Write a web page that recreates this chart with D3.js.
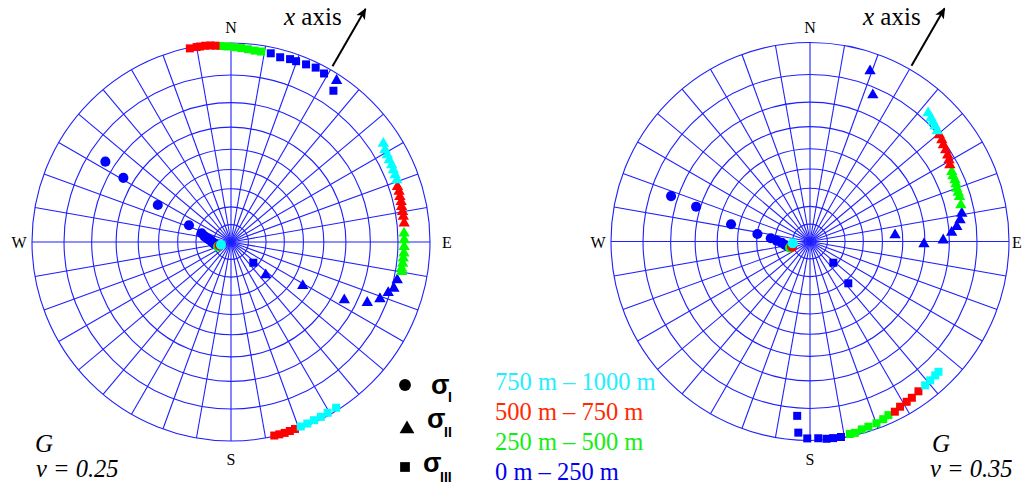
<!DOCTYPE html>
<html><head><meta charset="utf-8">
<script src="https://cdn.jsdelivr.net/npm/d3@7"></script>
<style>body{margin:0;background:#fff}svg{display:block}</style>
</head><body>
<script>
// ---------- data ----------
// depth bands (index used as 3rd element of each point)
const depthBands = ["0 m – 250 m", "250 m – 500 m", "500 m – 750 m", "750 m – 1000 m"];
const stressSubscripts = ["I", "II", "III"];
const compassLabels = ["N", "E", "S", "W"];
const compassTrends = [0, 90, 180, 270];
const gridPlunges = [0, 10, 20, 30, 40, 50, 60, 70, 80];
const gridTrends = [0,10,20,30,40,50,60,70,80,90,100,110,120,130,140,150,160,170,
                    180,190,200,210,220,230,240,250,260,270,280,290,300,310,320,330,340,350];
const xAxisTrend = 30;
const modelLabels = ["G", "G"];
const poissonLabels = ["ν = 0.25", "ν = 0.35"];

// points: [trend (deg), plunge (deg), depth band index]
const leftSigma1 = [
  [302.6,16.3,0],[300.8,25.6,0],[296.8,45.2,0],[291.7,64.4,0],[286.5,72.5,0],[282,74.5,0],
  [280,75.9,0],[277,77,0],[275.4,77.9,0],[272,78.8,0],[269,79.5,0],[265,80.2,0],[261.8,80.7,0],
  [250.9,82.1,1],[253.1,83.1,2],[255,84,3]
];
const leftSigma2 = [
  [133.6,62.9,0],[121.4,44.2,0],[117.1,24.8,0],[114.0,16.3,0],[110.9,12.6,0],[107.9,10.6,0],
  [105.9,9.2,0],[102.9,8.8,0],[33.2,1.8,0],
  [87.1,7.9,1],[89.3,7.9,1],[91.6,7.9,1],[93.7,7.9,1],[95.4,8.0,1],[97.1,8.0,1],[98.8,8.1,1],[99.9,7.9,1],
  [71.6,7.2,2],[73.3,7.2,2],[75.0,7.4,2],[76.7,7.4,2],[78.3,7.6,2],[80.0,7.6,2],[81.6,7.6,2],[83.8,7.6,2],
  [57.1,5.3,3],[59.1,5.9,3],[60.9,6.1,3],[62.6,6.3,3],[64.4,6.3,3],[66.1,6.5,3],[67.8,6.6,3],[69.5,6.7,3]
];
const leftSigma3 = [
  [11.9,1.8,0],[14.9,2.3,0],[17.9,2.0,0],[19.8,2.0,0],[22.9,1.8,0],[25.9,1.5,0],[28.9,1.9,0],
  [34.1,4.9,0],[132.9,72.6,0],
  [357,0.8,1],[359,1.0,1],[1,1.2,1],[3,1.4,1],[5,1.6,1],[7,1.8,1],[9,1.8,1],
  [348,0.3,2],[350,0.3,2],[351,0.3,2],[352.5,0.3,2],[354,0.4,2],[355.5,0.6,2],
  [167.4,0.2,2],[165.9,0.2,2],[164.3,0.2,2],[162.7,0.3,2],[161.1,0.4,2],
  [159.3,0.5,3],[157.2,0.6,3],[155.0,0.7,3],[152.8,0.7,3],[150.5,0.8,3],[147.6,0.8,3]
];
const rightSigma1 = [
  [288.1,17.4,0],[287.0,28.2,0],[282.3,45.8,0],[278.1,60.1,0],[274.7,67.6,0],[271.4,71.0,0],
  [267.6,73.8,0],[262,75.6,0],[256.5,77.2,0],
  [252.8,78,1],[253.9,79.3,2],[264,80,3]
];
const rightSigma2 = [
  [19.4,5.5,0],[23.2,12.6,0],[79.5,14.4,0],[81.8,15.4,0],[84.2,16.9,0],[86.4,19.0,0],
  [89.4,22.4,0],[91.3,30.4,0],[85.6,43.6,0],
  [63.8,13.1,1],[65.4,13.4,1],[67.0,13.3,1],[68.5,13.5,1],[70.1,13.8,1],[71.7,13.8,1],[73.3,13.8,1],[76.4,14.1,1],
  [50.5,9.8,2],[52.4,10.2,2],[54.1,10.8,2],[56.0,11.1,2],[57.9,11.5,2],[59.6,12.0,2],[61.3,12.6,2],
  [42.6,7.5,3],[44.4,8.0,3],[45.8,8.5,3],[47.3,8.9,3],[49.0,9.5,3]
];
const rightSigma3 = [
  [132.3,72.0,0],[137.5,58.2,0],[184.2,7.4,0],[183.5,2.2,0],[180.8,0.6,0],[177.6,0.6,0],
  [175.2,0.3,0],[173.3,0.3,0],[171.0,0.3,0],
  [168.3,0.7,1],[166.8,0.7,1],[164.6,1.2,1],[162.5,1.4,1],[159.9,1.6,1],[157.6,2.0,1],[155.7,2.5,1],
  [153.5,2.6,2],[151.4,3.2,2],[148.9,3.5,2],[146.9,3.7,2],[144.1,4.2,2],
  [141.3,4.4,3],[139.1,4.6,3],[136.9,4.7,3],[135.4,4.8,3]
];

// ---------- styles / layout ----------
const bandColors = ["#0000ff", "#00ff00", "#ff0000", "#00ffff"];
const bandTextColors = ["#0000ee", "#11ee11", "#ff2a00", "#22eeff"];
const gridColor = "#1f1fff";
const R = 199;
const panels = [
  {cx: 231, cy: 242, sets: [leftSigma1, leftSigma2, leftSigma3], ex: 447, lx: 35},
  {cx: 810, cy: 241.5, sets: [rightSigma1, rightSigma2, rightSigma3], ex: 1017, lx: 930}
];
const symbolTypes = [d3.symbolCircle, d3.symbolTriangle, d3.symbolSquare];
const symbolSizes = [80, 56, 64];

const svg = d3.select("body").append("svg").attr("width", 1026).attr("height", 487)
  .style("font-family", "'Liberation Serif', 'Times New Roman', serif");

const rScale = d3.scaleLinear().domain([0, 1]).range([0, R]);
const angle = d3.scaleLinear().domain([0, 360]).range([0, 2 * Math.PI]);
const proj = (t, p) => d3.pointRadial(angle(t), rScale(Math.tan((90 - p) * Math.PI / 360)));

svg.append("defs").append("marker")
  .attr("id", "arrow").attr("viewBox", "0 0 10 10").attr("refX", 9).attr("refY", 5)
  .attr("markerWidth", 11).attr("markerHeight", 11).attr("markerUnits", "userSpaceOnUse")
  .attr("orient", "auto")
  .append("path").attr("d", "M0,0.5 L10,5 L0,9.5 L2.5,5 Z").attr("fill", "#000");

panels.forEach((P, pi) => {
  const g = svg.append("g").attr("transform", `translate(${P.cx},${P.cy})`);
  // grid circles
  g.selectAll("circle.grid").data(gridPlunges).join("circle")
    .attr("r", d => rScale(Math.tan((90 - d) * Math.PI / 360)))
    .attr("fill", "none").attr("stroke", gridColor).attr("stroke-width", 1.1);
  // spokes
  g.selectAll("line.spoke").data(gridTrends).join("line")
    .attr("x1", 0).attr("y1", 0)
    .attr("x2", d => proj(d, 0)[0]).attr("y2", d => proj(d, 0)[1])
    .attr("stroke", gridColor).attr("stroke-width", 1.1);

  // compass labels
  compassLabels.forEach((lab, i) => {
    const t = compassTrends[i];
    let x = 0, y = 0;
    if (t === 0) { x = 0; y = -R - 10; }
    if (t === 180) { x = 0; y = R + 24; }
    if (t === 90) { x = P.ex - P.cx; y = 6; }
    if (t === 270) { x = -R - 13; y = 6; }
    g.append("text").attr("x", x).attr("y", y).attr("text-anchor", "middle")
      .attr("font-size", 16).attr("fill", "#000").text(lab);
  });

  // x axis arrow
  const a0 = d3.pointRadial(angle(xAxisTrend), R + 4);
  const a1 = d3.pointRadial(angle(xAxisTrend), R + 70);
  g.append("line").attr("x1", a0[0]).attr("y1", a0[1]).attr("x2", a1[0]).attr("y2", a1[1])
    .attr("stroke", "#000").attr("stroke-width", 2).attr("marker-end", "url(#arrow)");
  const xt = g.append("text").attr("x", 53).attr("y", 25 - P.cy).attr("font-size", 25).attr("fill", "#000");
  xt.append("tspan").attr("font-style", "italic").text("x");
  xt.append("tspan").text(" axis");

  // points
  P.sets.forEach((set, si) => {
    const sym = d3.symbol().type(symbolTypes[si]).size(symbolSizes[si]);
    const sorted = set.slice().sort((a, b) => a[2] - b[2]);
    g.selectAll(null).data(sorted).join("path")
      .attr("d", sym)
      .attr("transform", d => { const p = proj(d[0], d[1]); return `translate(${p[0]},${p[1]})`; })
      .attr("fill", d => bandColors[d[2]]);
  });

  // panel labels
  svg.append("text").attr("x", P.lx + (pi === 0 ? 0 : 2)).attr("y", 452).attr("font-size", 25)
    .attr("font-style", "italic").text(modelLabels[pi]);
  svg.append("text").attr("x", P.lx + (pi === 0 ? 1 : 0)).attr("y", 477).attr("font-size", 24.5)
    .attr("font-style", "italic").text(poissonLabels[pi]);
});

// legend: stress symbols
const legRows = [{mx: 405, my: 385, sx: 431, sy: 394, bx: 448, by: 402},
                 {mx: 407, my: 429, sx: 427, sy: 428, bx: 444, by: 437},
                 {mx: 405, my: 467, sx: 423, sy: 472, bx: 440, by: 482}];
legRows.forEach((r, i) => {
  svg.append("path").attr("d", d3.symbol().type(symbolTypes[i]).size([110, 95, 95][i]))
    .attr("transform", `translate(${r.mx},${r.my})`).attr("fill", "#000");
  svg.append("text").attr("x", r.sx).attr("y", r.sy).attr("font-size", 27).attr("font-weight", "bold")
    .attr("font-family", "'Liberation Sans', Arial, sans-serif").text("σ");
  svg.append("text").attr("x", r.bx).attr("y", r.by).attr("font-size", 14).attr("font-weight", "bold")
    .attr("font-family", "'Liberation Sans', Arial, sans-serif").text(stressSubscripts[i]);
});

// legend: depth bands (deepest first)
[3, 2, 1, 0].forEach((b, i) => {
  svg.append("text").attr("x", 495).attr("y", 390 + i * 30).attr("font-size", 24.5)
    .attr("fill", bandTextColors[b]).text(depthBands[b]);
});
</script>
</body></html>
